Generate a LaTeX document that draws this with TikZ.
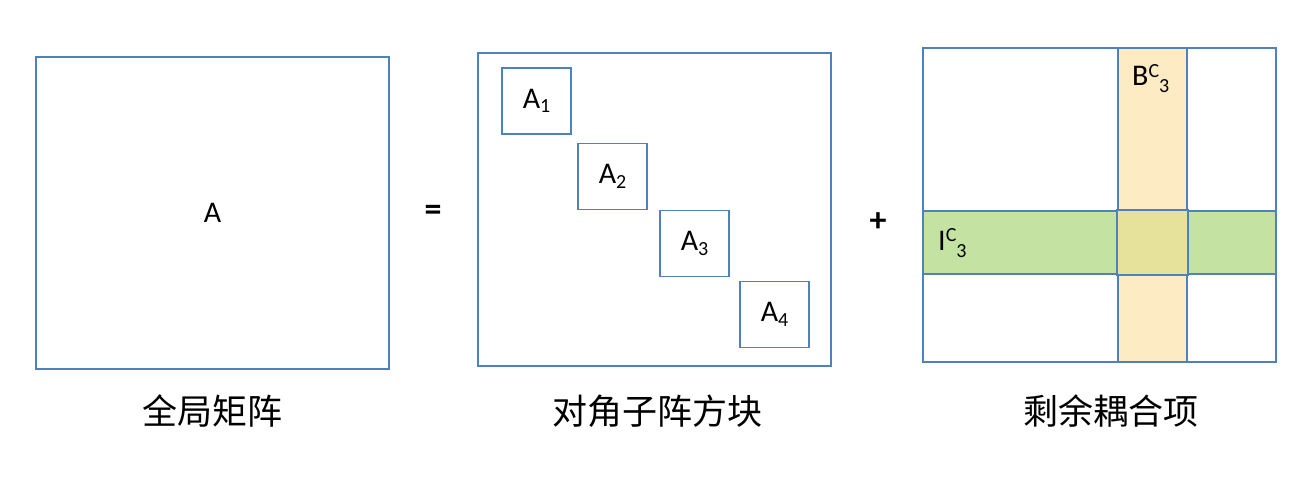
\documentclass[tikz,border=0pt]{standalone}
\usepackage{fontspec}
\setmainfont{Carlito}
\newfontfamily\cjk{Noto Sans CJK SC}
\usetikzlibrary{positioning,calc}
\definecolor{matblue}{HTML}{4F81BD}
\definecolor{rowgreen}{HTML}{C4E3A3}
\definecolor{colyellow}{HTML}{FDEBC3}
\definecolor{bothfill}{HTML}{E6E29C}
\newcommand{\idx}[1]{\raisebox{-0.3ex}{\fontsize{20}{20}\selectfont #1}}
\newcommand{\cpl}[2]{#1\raisebox{0.6ex}{\fontsize{20}{20}\selectfont C}\raisebox{-0.5ex}{\fontsize{20}{20}\selectfont #2}}

\begin{document}
\begin{tikzpicture}[x=1pt, y=-1pt,
                    mat/.style = {draw=matblue, line width=1.8pt, minimum width=353pt, inner sep=0pt},
                    blk/.style = {draw=matblue, line width=1.8pt, minimum width=69pt, minimum height=66pt, inner sep=0pt},
                    strip/.style = {draw=matblue, line width=1.8pt, inner sep=0pt},
                    every node/.style = {font=\fontsize{30}{33}\selectfont},
                    sign/.style = {font=\bfseries\fontsize{34}{36}\selectfont},
                    caption/.style = {font=\cjk\fontsize{35}{40}\selectfont}]
    \useasboundingbox (0,0) rectangle (1314,479);
    % global matrix
    \node[mat, minimum height=312pt] (G) at (212.5,213) {A};
    \node[sign] (eq) at (433,213) {=};
    % diagonal blocks
    \node[mat, minimum height=313pt] (D) at (654.5,209.5) {};
    \node[blk] (A1) at (536.5,101) {A\idx{1}};
    \node[blk] (A2) at (612.5,176.5) {A\idx{2}};
    \node[blk] (A3) at (694.5,243.5) {A\idx{3}};
    \node[blk] (A4) at (774.5,314.5) {A\idx{4}};
    \node[sign] (plus) at (878,222) {+};
    % coupling terms
    \node[strip, fill=rowgreen, minimum width=353pt, minimum height=63pt] (Irow) at (1099.5,242.5) {};
    \node[strip, fill=colyellow, minimum width=69pt, minimum height=314pt] (Bcol) at (1152.5,205) {};
    \fill[bothfill] (Bcol.west |- Irow.north) rectangle (Bcol.east |- Irow.south);
    \draw[matblue, line width=1.8pt] (Bcol.west |- Irow.north) rectangle (Bcol.east |- Irow.south);
    \node[mat, minimum height=314pt] (R) at (1099.5,205) {};
    \node[anchor=north west, inner sep=0pt] (Blab) at (1132,64) {\cpl{B}{3}};
    \node[anchor=west, inner sep=0pt] (Ilab) at (938,243) {\cpl{I}{3}};
    % captions
    \node[caption] (cG) at (212,411) {全局矩阵};
    \node[caption] (cD) at (657,411) {对角子阵方块};
    \node[caption] (cR) at (1111,411) {剩余耦合项};
\end{tikzpicture}
\end{document}
